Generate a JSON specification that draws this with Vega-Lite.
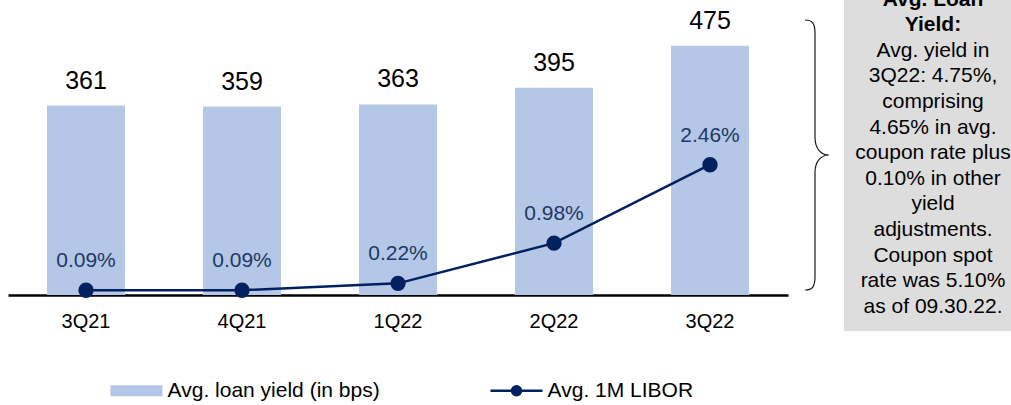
{
  "$schema": "https://vega.github.io/schema/vega-lite/v6.json",
  "padding": {"left": 8, "top": 0, "right": 0, "bottom": 0},
  "spacing": 0,
  "bounds": "flush",
  "config": {"font": "Liberation Sans", "view": {"stroke": null}},
  "hconcat": [
    {
      "width": 780,
      "height": 295,
      "data": {"values": [
        {"quarter": "3Q21", "yield_bps": 361, "libor": 0.0009},
        {"quarter": "4Q21", "yield_bps": 359, "libor": 0.0009},
        {"quarter": "1Q22", "yield_bps": 363, "libor": 0.0022},
        {"quarter": "2Q22", "yield_bps": 395, "libor": 0.0098},
        {"quarter": "3Q22", "yield_bps": 475, "libor": 0.0246}
      ]},
      "encoding": {
        "x": {
          "field": "quarter", "type": "ordinal", "sort": null,
          "scale": {"paddingInner": 0.5, "paddingOuter": 0.25},
          "axis": {"title": null, "ticks": false, "tickSize": 0, "labelPadding": 16, "labelFontSize": 20, "labelColor": "#000000", "labelAngle": 0, "domainColor": "#000000", "domainWidth": 2.3, "grid": false}
        }
      },
      "layer": [
        {
          "encoding": {"y": {"field": "yield_bps", "type": "quantitative", "scale": {"domain": [0, 562]}, "axis": null}},
          "layer": [
            {
              "mark": {"type": "bar"},
              "encoding": {
                "color": {
                  "datum": "Avg. loan yield (in bps)",
                  "scale": {"domain": ["Avg. loan yield (in bps)", "Avg. 1M LIBOR"], "range": ["#b4c7e7", "#002060"]},
                  "legend": {
                    "orient": "none", "legendX": 118, "legendY": 380, "direction": "horizontal",
                    "title": null, "padding": 0, "labelFontSize": 21, "labelColor": "#000000", "labelLimit": 400,
                    "symbolSize": 432.6, "labelOffset": 20.6, "columnPadding": 105,
                    "encode": {
                      "symbols": {
                        "update": {
                          "shape": {"signal": "datum.value === 'Avg. 1M LIBOR' ? 'M-2.5,0H2.5M0.43,0A0.43,0.43 0 1,1 -0.43,0A0.43,0.43 0 1,1 0.43,0Z' : 'M-2.5,-0.53H2.5V0.53H-2.5Z'"},
                          "strokeWidth": {"signal": "datum.value === 'Avg. 1M LIBOR' ? 2.5 : 0"},
                          "fill": {"signal": "datum.value === 'Avg. 1M LIBOR' ? '#002060' : '#b4c7e7'"},
                          "stroke": {"signal": "datum.value === 'Avg. 1M LIBOR' ? '#002060' : '#b4c7e7'"},
                          "opacity": {"value": 1},
                          "fillOpacity": {"value": 1},
                          "strokeOpacity": {"value": 1}
                        }
                      }
                    }
                  }
                }
              }
            },
            {
              "mark": {"type": "text", "baseline": "alphabetic", "dy": -17, "fontSize": 25, "color": "#000000"},
              "encoding": {"text": {"field": "yield_bps", "type": "quantitative"}}
            }
          ]
        },
        {
          "encoding": {"y": {"field": "libor", "type": "quantitative", "scale": {"domain": [0, 0.0557]}, "axis": null}},
          "layer": [
            {
              "mark": {"type": "line", "strokeWidth": 2.5, "point": {"filled": true, "size": 235, "color": "#002060"}},
              "encoding": {"color": {"datum": "Avg. 1M LIBOR"}}
            },
            {
              "mark": {"type": "text", "baseline": "alphabetic", "dy": -23, "fontSize": 21, "color": "#203864"},
              "encoding": {"text": {"field": "libor", "type": "quantitative", "format": ".2%"}}
            }
          ]
        }
      ],
      "resolve": {"scale": {"y": "independent"}}
    },
    {
      "width": 56,
      "height": 310,
      "data": {"values": [{"label": "brace"}]},
      "mark": {
        "type": "point",
        "shape": "M-0.081,-1 C-0.03,-1 -0.0074,-0.98 -0.0074,-0.9 L-0.0074,-0.13 C-0.0074,-0.045 0.04,0 0.096,0 C0.04,0 -0.0074,0.045 -0.0074,0.13 L-0.0074,0.9 C-0.0074,0.98 -0.03,1 -0.081,1",
        "size": 72900,
        "filled": false,
        "fill": null,
        "stroke": "#1a1a1a",
        "strokeWidth": 1.2,
        "opacity": 1
      },
      "encoding": {}
    },
    {
      "width": 167,
      "height": 331,
      "view": {"fill": "#dddddd", "stroke": null},
      "data": {"values": [{
        "title": "Avg. Loan\nYield:",
        "body": "Avg. yield in\n3Q22: 4.75%,\ncomprising\n4.65% in avg.\ncoupon rate plus\n0.10% in other\nyield\nadjustments.\nCoupon spot\nrate was 5.10%\nas of 09.30.22."
      }]},
      "layer": [
        {
          "mark": {"type": "text", "lineBreak": "\n", "lineHeight": 25.6, "fontSize": 21, "fontWeight": "bold", "baseline": "middle", "align": "center", "dx": 5.5, "dy": -165.8, "clip": true, "color": "#000000"},
          "encoding": {"text": {"field": "title"}}
        },
        {
          "mark": {"type": "text", "lineBreak": "\n", "lineHeight": 25.6, "fontSize": 21, "baseline": "middle", "align": "center", "dx": 5.5, "dy": -114.6, "clip": true, "color": "#000000"},
          "encoding": {"text": {"field": "body"}}
        }
      ]
    }
  ]
}
